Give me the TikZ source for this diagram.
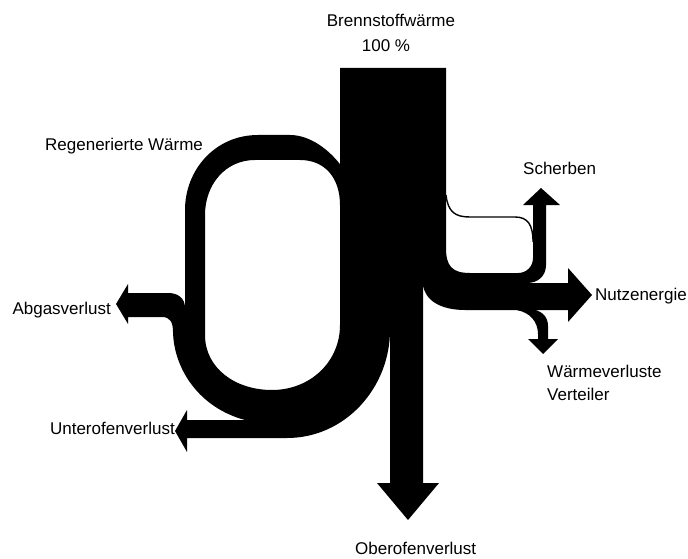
\documentclass[tikz,border=0pt]{standalone}
\usepackage{fontspec}
\setmainfont{Liberation Sans}
\begin{document}
\begin{tikzpicture}[x=1pt,y=-1pt,
  lbl/.style={font=\fontsize{17}{20}\selectfont, inner sep=0pt},
  flow/.style={fill=black}]
\useasboundingbox (0,0) rectangle (688,559);

% main column, Nutzenergie band with Scherben and Verteiler branches, Oberofen shaft
\fill[flow] (340,68) -- (446,68) -- (446,248)
  .. controls (446,266) and (452,273) .. (470,273) -- (518,273)
  .. controls (527,273) and (533,266) .. (533,258) -- (533,205)
  -- (523,205) -- (541,188) -- (560,205) -- (546,205) -- (546,265)
  .. controls (546,276) and (538,283) .. (527,283) -- (568,283)
  -- (568,268) -- (592,295) -- (568,322) -- (568,310) -- (534,310)
  .. controls (542,311) and (548,317) .. (548,326) -- (548,339)
  -- (558,339) -- (543,354) -- (528,339) -- (538,339) -- (538,334)
  .. controls (538,322) and (530,312) .. (516,310) -- (465,310)
  .. controls (440,310) and (425,300) .. (423,285) -- (423,483)
  -- (439,483) -- (408,520) -- (377,483) -- (390,483) -- (390,330)
  -- (340,330) -- cycle;

% regenerator loop with Abgas and Unterofen losses
\fill[flow, even odd rule] (342,167) .. controls (330,150) and (310,135) .. (290,135)
  -- (258,135) .. controls (215,135) and (185,170) .. (185,210) -- (185,308)
  .. controls (185,298) and (178,293) .. (168,293) -- (128,293)
  -- (128,284) -- (116,304) -- (128,324) -- (128,317) -- (162,317)
  .. controls (170,317) and (173,322) .. (173,332)
  .. controls (174,370) and (200,408) .. (245,420) -- (187,420)
  -- (187,410) -- (175,431) -- (187,452) -- (187,438) -- (287,438)
  .. controls (345,438) and (390,388) .. (390,330) -- (390,167) -- cycle
  (255,160) -- (300,160) .. controls (325,160) and (340,178) .. (340,205)
  -- (340,325) .. controls (340,362) and (310,390) .. (272,390)
  .. controls (235,390) and (205,368) .. (205,335) -- (205,215)
  .. controls (205,185) and (225,160) .. (255,160) -- cycle;

% thin outline of the Scherben flow
\draw[line width=1.4pt] (446,195) .. controls (448,212) and (455,217) .. (470,217)
  -- (515,217) .. controls (528,217) and (533,225) .. (533,242);

% labels
\node[lbl, anchor=base] (brenn) at (391,27) {Brennstoffwärme};
\node[lbl, anchor=base] (hundert) at (386,52) {100 \%};
\node[lbl, anchor=base west] (regen) at (45,150) {Regenerierte Wärme};
\node[lbl, anchor=base west] (scherben) at (523,175) {Scherben};
\node[lbl, anchor=base east] (nutz) at (687,300) {Nutzenergie};
\node[lbl, anchor=base west] (wv1) at (547,377) {Wärmeverluste};
\node[lbl, anchor=base west] (wv2) at (547,400) {Verteiler};
\node[lbl, anchor=base east] (abgas) at (111,314) {Abgasverlust};
\node[lbl, anchor=base east] (unter) at (175,434) {Unterofenverlust};
\node[lbl, anchor=base west] (ober) at (355,554) {Oberofenverlust};
\end{tikzpicture}
\end{document}
